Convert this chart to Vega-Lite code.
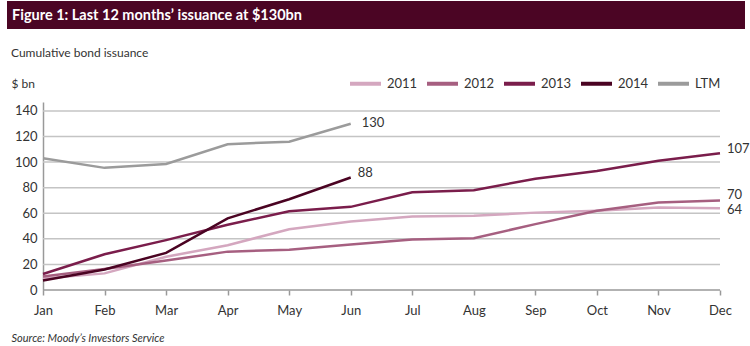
{
  "$schema": "https://vega.github.io/schema/vega-lite/v6.json",
  "background": "white",
  "padding": {"left": 7, "top": 1, "right": 0, "bottom": 0},
  "config": {"font": "Lato", "view": {"stroke": null}},
  "columns": 1,
  "spacing": 18,
  "concat": [
    {
      "width": 738,
      "height": 28,
      "view": {"fill": "#4b0524", "stroke": null},
      "data": {"values": [{"t": "Figure 1: Last 12 months’ issuance at $130bn"}]},
      "mark": {"type": "text", "align": "left", "baseline": "middle", "color": "white", "fontSize": 14.5, "fontWeight": "bold", "font": "Lato"},
      "encoding": {"text": {"field": "t"}, "x": {"value": 5}, "y": {"value": 15}}
    },
    {
      "width": 738,
      "height": 188,
      "title": {"text": "Cumulative bond issuance", "anchor": "start", "frame": "group", "dx": 4, "fontSize": 12, "fontWeight": "normal", "color": "#333", "baseline": "bottom", "offset": 5},
      "data": {"values": [
        {"month": "Jan", "series": "2011", "value": 9},
        {"month": "Feb", "series": "2011", "value": 13},
        {"month": "Mar", "series": "2011", "value": 26},
        {"month": "Apr", "series": "2011", "value": 35},
        {"month": "May", "series": "2011", "value": 47.5},
        {"month": "Jun", "series": "2011", "value": 53.5},
        {"month": "Jul", "series": "2011", "value": 57.5},
        {"month": "Aug", "series": "2011", "value": 58},
        {"month": "Sep", "series": "2011", "value": 60.5},
        {"month": "Oct", "series": "2011", "value": 62},
        {"month": "Nov", "series": "2011", "value": 64.5},
        {"month": "Dec", "series": "2011", "value": 64},
        {"month": "Jan", "series": "2012", "value": 10.5},
        {"month": "Feb", "series": "2012", "value": 16.5},
        {"month": "Mar", "series": "2012", "value": 23},
        {"month": "Apr", "series": "2012", "value": 30},
        {"month": "May", "series": "2012", "value": 31.5},
        {"month": "Jun", "series": "2012", "value": 35.5},
        {"month": "Jul", "series": "2012", "value": 39.5},
        {"month": "Aug", "series": "2012", "value": 40.5},
        {"month": "Sep", "series": "2012", "value": 51.5},
        {"month": "Oct", "series": "2012", "value": 62},
        {"month": "Nov", "series": "2012", "value": 68.5},
        {"month": "Dec", "series": "2012", "value": 70},
        {"month": "Jan", "series": "2013", "value": 12.5},
        {"month": "Feb", "series": "2013", "value": 28},
        {"month": "Mar", "series": "2013", "value": 39},
        {"month": "Apr", "series": "2013", "value": 51},
        {"month": "May", "series": "2013", "value": 61.5},
        {"month": "Jun", "series": "2013", "value": 65},
        {"month": "Jul", "series": "2013", "value": 76.5},
        {"month": "Aug", "series": "2013", "value": 78},
        {"month": "Sep", "series": "2013", "value": 87},
        {"month": "Oct", "series": "2013", "value": 93},
        {"month": "Nov", "series": "2013", "value": 101},
        {"month": "Dec", "series": "2013", "value": 107},
        {"month": "Jan", "series": "2014", "value": 7.5},
        {"month": "Feb", "series": "2014", "value": 16},
        {"month": "Mar", "series": "2014", "value": 29},
        {"month": "Apr", "series": "2014", "value": 56},
        {"month": "May", "series": "2014", "value": 71},
        {"month": "Jun", "series": "2014", "value": 88},
        {"month": "Jan", "series": "LTM", "value": 103},
        {"month": "Feb", "series": "LTM", "value": 95.5},
        {"month": "Mar", "series": "LTM", "value": 98.5},
        {"month": "Apr", "series": "LTM", "value": 114},
        {"month": "May", "series": "LTM", "value": 116},
        {"month": "Jun", "series": "LTM", "value": 130}
      ]},
      "encoding": {
        "x": {
          "field": "month", "type": "ordinal",
          "sort": ["Jan", "Feb", "Mar", "Apr", "May", "Jun", "Jul", "Aug", "Sep", "Oct", "Nov", "Dec"],
          "scale": {"type": "point", "range": [36, 713], "padding": 0},
          "axis": {
            "title": "Source: Moody’s Investors Service",
            "titleAnchor": "start", "titleAlign": "left", "titleBaseline": "middle",
            "titleX": 4, "titleY": 48,
            "titleFontStyle": "italic", "titleFontWeight": "normal", "titleFontSize": 11, "titleColor": "#333",
            "labelAngle": 0, "labelFontSize": 13, "labelColor": "#333", "labelPadding": 9,
            "tickSize": 5, "tickColor": "#999", "tickWidth": 1.5,
            "domain": false, "grid": false
          }
        },
        "y": {
          "field": "value", "type": "quantitative",
          "scale": {"domain": [0, 147], "nice": false},
          "axis": {
            "values": [0, 20, 40, 60, 80, 100, 120, 140],
            "offset": -36,
            "title": "$ bn", "titleAngle": 0, "titleAlign": "left", "titleBaseline": "middle",
            "titleX": -32, "titleY": -19, "titleFontWeight": "normal", "titleFontSize": 12, "titleColor": "#333",
            "ticks": false, "labelPadding": 6, "labelAlign": "right", "labelFontSize": 13, "labelColor": "#333",
            "grid": false,
            "domainColor": "#999", "domainWidth": 1.5
          }
        }
      },
      "layer": [
        {
          "data": {"values": [{"value": 20}, {"value": 40}, {"value": 60}, {"value": 80}, {"value": 100}, {"value": 120}, {"value": 140}]},
          "mark": {"type": "rule", "color": "#c4c4c4", "strokeWidth": 1.5},
          "encoding": {"x": {"datum": "Jan", "type": "ordinal"}, "x2": {"datum": "Dec"}}
        },
        {
          "data": {"values": [{"value": 0}]},
          "mark": {"type": "rule", "color": "#999", "strokeWidth": 1.5},
          "encoding": {"x": {"datum": "Jan", "type": "ordinal"}, "x2": {"datum": "Dec"}}
        },
        {
          "mark": {"type": "line", "strokeWidth": 2.5},
          "encoding": {
            "color": {
              "field": "series", "type": "nominal",
              "scale": {"domain": ["2011", "2012", "2013", "2014", "LTM"], "range": ["#d4a7bf", "#a65f80", "#7a1d4b", "#4a0322", "#9b9b9b"]},
              "legend": {
                "orient": "none", "legendX": 341, "legendY": 65, "direction": "horizontal", "title": null,
                "symbolType": "stroke", "symbolSize": 961, "symbolStrokeWidth": 4,
                "labelFontSize": 13, "labelColor": "#333", "labelOffset": 4, "columnPadding": 1
              }
            }
          }
        },
        {
          "transform": [{"filter": "(datum.month === 'Dec' && datum.series === '2013') || (datum.month === 'Jun' && datum.series === '2014')"}],
          "mark": {"type": "text", "align": "left", "baseline": "middle", "dx": 7, "dy": -4, "fontSize": 13, "color": "#333"},
          "encoding": {"text": {"field": "value", "type": "quantitative", "format": "d"}}
        },
        {
          "transform": [{"filter": "datum.month === 'Dec' && datum.series === '2012'"}],
          "mark": {"type": "text", "align": "left", "baseline": "middle", "dx": 7, "dy": -5, "fontSize": 13, "color": "#333"},
          "encoding": {"text": {"field": "value", "type": "quantitative", "format": "d"}}
        },
        {
          "transform": [{"filter": "datum.month === 'Jun' && datum.series === 'LTM'"}],
          "mark": {"type": "text", "align": "left", "baseline": "middle", "dx": 11, "dy": -1, "fontSize": 13, "color": "#333"},
          "encoding": {"text": {"field": "value", "type": "quantitative", "format": "d"}}
        },
        {
          "transform": [{"filter": "datum.month === 'Dec' && datum.series === '2011'"}],
          "mark": {"type": "text", "align": "left", "baseline": "middle", "dx": 7, "dy": 2, "fontSize": 13, "color": "#333"},
          "encoding": {"text": {"field": "value", "type": "quantitative", "format": "d"}}
        }
      ]
    }
  ]
}
